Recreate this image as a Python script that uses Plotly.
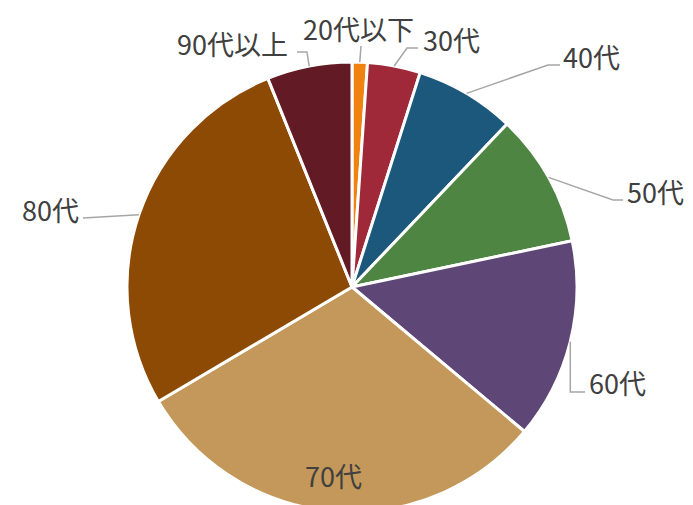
import math
import plotly.graph_objects as go

# ---- data ----
categories = ["20代以下", "30代", "40代", "50代", "60代", "70代", "80代", "90代以上"]
shares = [1.1, 3.8, 7.2, 9.6, 14.4, 30.4, 27.4, 6.1]
colors = ["#F0820F", "#9F2839", "#1B587C", "#4E8542", "#5E4777", "#C3985A", "#8C4A04", "#621A24"]

# ---- layout / style ----
W, H = 693, 505
OFF = 8                              # page offset of the figure in the window
CX, CY, R = 352, 287, 225            # pie centre / radius in window px
# label centre (window px) and leader waypoints after the slice anchor; None = inside label
label_pos = {
    "20代以下": (359, 28, [(361, 46)]),
    "30代": (451, 39, [(407, 48), (418, 48)]),
    "40代": (591, 57, [(548, 65), (560, 65)]),
    "50代": (655, 191, [(613, 200), (623, 200)]),
    "60代": (617, 382, [("a", 392), (585, 392)]),
    "70代": (333, 475, None),
    "80代": (50, 209, [(83, 218)]),
    "90代以上": (232, 44, [(307, 52), (297, 52)]),
}
FONT = "Noto Sans CJK JP"
TXT = "#404040"
LEADER = "#A6A6A6"


def px_x(x):
    return (x - OFF) / W


def px_y(y):
    return 1 - (y - OFF) / H


fig = go.Figure(
    go.Pie(
        labels=categories,
        values=shares,
        sort=False,
        direction="clockwise",
        rotation=0,
        marker=dict(colors=colors, line=dict(color="white", width=3)),
        textinfo="none",
        hoverinfo="label+percent",
        showlegend=False,
        domain=dict(x=[px_x(CX - R), px_x(CX + R)],
                    y=[max(0.0, px_y(CY + R)), px_y(CY - R)]),
    )
)

total = sum(shares)
cum = 0.0
shapes, annotations = [], []
for cat, v in zip(categories, shares):
    mid = (cum + v / 2) / total * 2 * math.pi
    cum += v
    ax = CX + R * math.sin(mid)
    ay = CY - R * math.cos(mid)
    lx, ly, pts = label_pos[cat]
    if pts is not None:
        path_pts = [(ax, ay)] + [((ax if p[0] == "a" else p[0]), p[1]) for p in pts]
        d = "M " + " L ".join(f"{px_x(x):.5f},{px_y(y):.5f}" for x, y in path_pts)
        shapes.append(dict(type="path", xref="paper", yref="paper", path=d,
                           line=dict(color=LEADER, width=1.5)))
    annotations.append(dict(x=px_x(lx), y=px_y(ly), xref="paper", yref="paper",
                            text=cat, showarrow=False, xanchor="center", yanchor="middle",
                            borderpad=0,
                            font=dict(family=FONT, size=27, color=TXT)))

fig.update_layout(
    width=W, height=H,
    margin=dict(l=0, r=0, t=0, b=0),
    paper_bgcolor="white",
    plot_bgcolor="white",
    shapes=shapes,
    annotations=annotations,
)

fig.write_html("out.html")
